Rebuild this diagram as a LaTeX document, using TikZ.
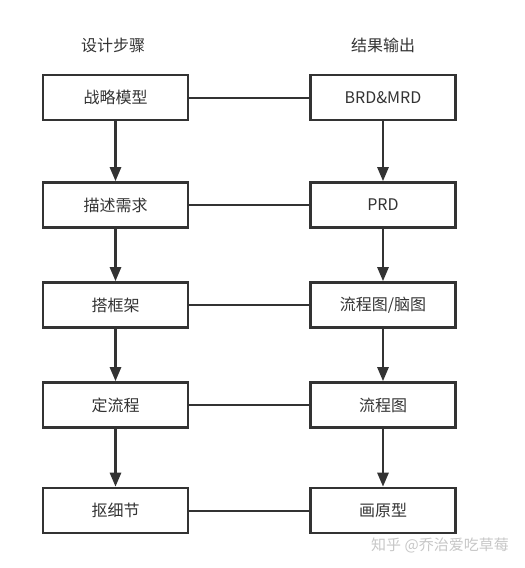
\documentclass[tikz,border=0pt]{standalone}
\usepackage{fontspec}
\setmainfont{Noto Sans CJK SC}
\usetikzlibrary{arrows.meta}
\definecolor{ink}{HTML}{333333}
\begin{document}
\begin{tikzpicture}[x=1pt,y=-1pt,
  box/.style={draw=ink,line width=2.6pt,minimum width=145pt,minimum height=45pt,inner sep=0pt,font=\fontsize{16}{19}\selectfont,text=ink},
  head/.style={font=\fontsize{16}{19}\selectfont,text=ink},
  flow/.style={draw=ink,line width=2.6pt,-{Triangle[width=11pt,length=14pt]}},
  link/.style={draw=ink,line width=2pt}]
\useasboundingbox (0,0) rectangle (525,568);
\node[head] (h1) at (113,45) {设计步骤};
\node[head] (h2) at (383,45) {结果输出};
\node[box] (l1) at (115.5,97.5) {战略模型};
\node[box] (l2) at (115.5,205) {描述需求};
\node[box] (l3) at (115.5,305) {搭框架};
\node[box] (l4) at (115.5,405) {定流程};
\node[box] (l5) at (115.5,510.5) {抠细节};
\node[box] (r1) at (383,97.5) {BRD\&MRD};
\node[box] (r2) at (383,205) {PRD};
\node[box] (r3) at (383,305) {流程图/脑图};
\node[box] (r4) at (383,405) {流程图};
\node[box] (r5) at (383,510.5) {画原型};
\foreach \a/\b in {l1/l2,l2/l3,l3/l4,l4/l5,r1/r2,r2/r3,r3/r4,r4/r5}
  \draw[flow] (\a.south) -- (\b.north);
\foreach \i in {1,...,5}
  \draw[link] (l\i.east) -- (r\i.west);
\node[font=\fontsize{15}{18}\selectfont,text=black!22] (wm) at (440,545) {知乎 @乔治爱吃草莓};
\end{tikzpicture}
\end{document}
